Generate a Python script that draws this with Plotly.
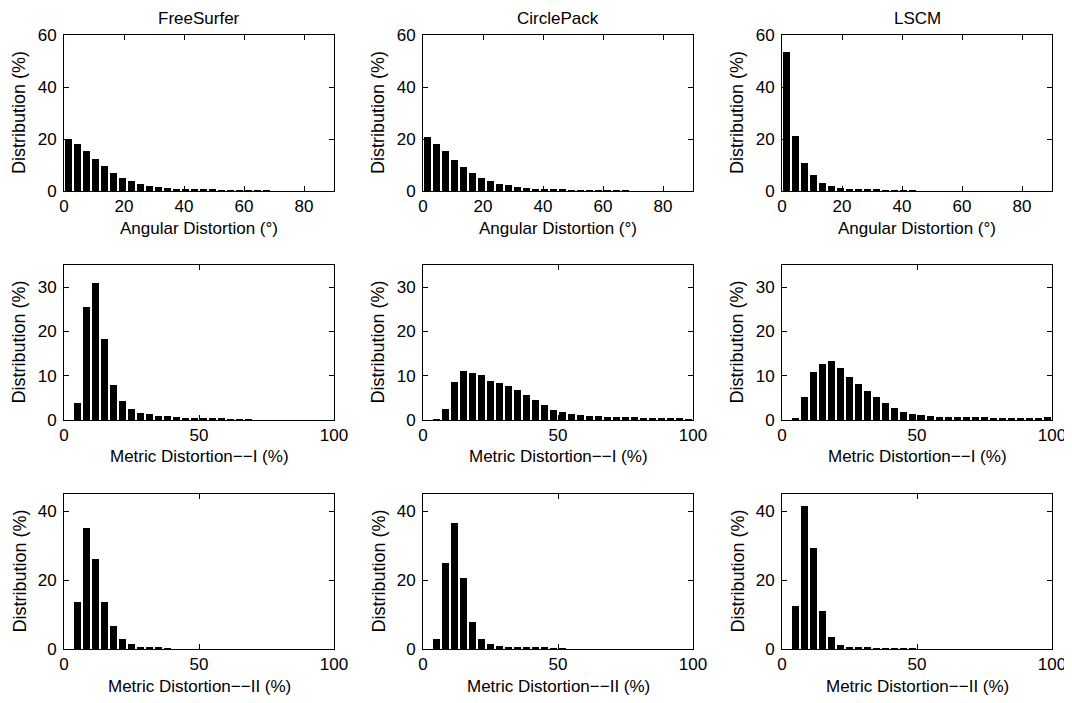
import plotly.graph_objects as go
from plotly.subplots import make_subplots

methods = ["FreeSurfer", "CirclePack", "LSCM"]
xlabels = ["Angular Distortion (°)", "Metric Distortion\u2212\u2212I (%)", "Metric Distortion\u2212\u2212II (%)"]
ylabel = "Distribution (%)"

n_bins = 30
ang_max = 90
met_max = 100

# Angular distortion histograms (%), 30 bins over 0-90 deg
ang_freesurfer = [20.0, 17.9, 15.2, 12.3, 9.5, 6.9, 5.1, 3.9, 2.8, 2.1, 1.4, 1.2, 0.9, 0.7, 0.55,
                  0.45, 0.4, 0.35, 0.3, 0.25, 0.2, 0.15, 0.1, 0, 0, 0, 0, 0, 0, 0]
ang_circlepack = [20.8, 17.9, 15.2, 12.1, 9.3, 6.8, 4.9, 3.7, 2.8, 2.3, 1.7, 1.2, 0.9, 0.7, 0.5,
                  0.4, 0.35, 0.3, 0.25, 0.2, 0.15, 0.1, 0.1, 0, 0, 0, 0, 0, 0, 0]
ang_lscm = [53.3, 21.2, 10.7, 6.0, 3.2, 1.9, 1.2, 0.9, 0.6, 0.5, 0.4, 0.3, 0.3, 0.2, 0.15,
            0, 0, 0, 0, 0, 0, 0, 0, 0, 0, 0, 0, 0, 0, 0]

# Metric distortion I histograms (%), 30 bins over 0-100 %
md1_freesurfer = [0, 3.9, 25.6, 31.0, 18.3, 8.0, 4.2, 2.4, 1.6, 1.3, 1.0, 0.8, 0.7, 0.5, 0.45,
                  0.4, 0.3, 0.25, 0.2, 0.15, 0.1, 0, 0, 0, 0, 0, 0, 0, 0, 0]
md1_circlepack = [0, 0.15, 2.5, 8.6, 11.1, 10.6, 10.2, 8.9, 8.3, 7.7, 6.7, 5.7, 4.6, 3.5, 2.3,
                  1.7, 1.3, 1.1, 0.9, 0.8, 0.7, 0.7, 0.6, 0.6, 0.5, 0.45, 0.4, 0.3, 0.25, 0.2]
md1_lscm = [0, 0.4, 5.3, 10.8, 12.7, 13.3, 11.7, 9.6, 8.1, 6.6, 5.3, 3.9, 2.6, 1.7, 1.4,
            1.1, 0.8, 0.7, 0.7, 0.7, 0.6, 0.6, 0.6, 0.55, 0.5, 0.5, 0.45, 0.4, 0.4, 0.7]

# Metric distortion II histograms (%), 30 bins over 0-100 %
md2_freesurfer = [0, 13.6, 35.2, 26.0, 13.6, 6.8, 2.9, 1.5, 0.7, 0.5, 0.3, 0.1, 0, 0, 0,
                  0, 0, 0, 0, 0, 0, 0, 0, 0, 0, 0, 0, 0, 0, 0]
md2_circlepack = [0, 3.0, 25.0, 36.7, 20.6, 7.8, 2.9, 1.4, 1.0, 0.7, 0.6, 0.5, 0.4, 0.3, 0.2,
                  0.15, 0, 0, 0, 0, 0, 0, 0, 0, 0, 0, 0, 0, 0, 0]
md2_lscm = [0, 12.4, 41.5, 29.2, 11.1, 3.5, 1.2, 0.6, 0.4, 0.3, 0.2, 0.2, 0.15, 0.1, 0.1,
            0, 0, 0, 0, 0, 0, 0, 0, 0, 0, 0, 0, 0, 0, 0]

data = [
    [ang_freesurfer, ang_circlepack, ang_lscm],
    [md1_freesurfer, md1_circlepack, md1_lscm],
    [md2_freesurfer, md2_circlepack, md2_lscm],
]
x_max = [ang_max, met_max, met_max]
y_max = [60, 35, 45]
y_ticks = [[0, 20, 40, 60], [0, 10, 20, 30], [0, 20, 40]]
x_ticks = [[0, 20, 40, 60, 80], [0, 50, 100], [0, 50, 100]]

# page body has an 8px margin; work in figure coordinates
OFF = 8
W, H = 1072 - OFF, 703 - OFF
col_left = [64 - OFF, 423 - OFF, 782 - OFF]
col_width = 270
row_top = [35 - OFF, 265 - OFF, 494 - OFF]
row_bottom = [191 - OFF, 420 - OFF, 649 - OFF]

FONT = "Liberation Sans, Arial, Helvetica, sans-serif"

fig = make_subplots(rows=3, cols=3)
annotations = []
for r in range(3):
    bw = x_max[r] / n_bins
    centers = [(i + 0.5) * bw for i in range(n_bins)]
    for c in range(3):
        fig.add_trace(go.Bar(x=centers, y=data[r][c], width=bw * 0.75,
                             marker=dict(color="black", line=dict(width=0)),
                             showlegend=False, hoverinfo="x+y"),
                      row=r + 1, col=c + 1)
        idx = r * 3 + c + 1
        xa = "xaxis" if idx == 1 else f"xaxis{idx}"
        ya = "yaxis" if idx == 1 else f"yaxis{idx}"
        x0 = col_left[c] / W
        x1 = (col_left[c] + col_width) / W
        y0 = 1 - row_bottom[r] / H
        y1 = 1 - row_top[r] / H
        common = dict(showline=True, linecolor="black", linewidth=1, mirror="ticks",
                      ticks="inside", ticklen=5, tickcolor="black", showgrid=False,
                      zeroline=False, automargin=False,
                      tickfont=dict(family=FONT, size=17, color="black"))
        fig.layout[xa].update(domain=[x0, x1], range=[0, x_max[r]], tickvals=x_ticks[r],
                              ticklabelstandoff=0, **common)
        fig.layout[ya].update(domain=[y0, y1], range=[0, y_max[r]], tickvals=y_ticks[r],
                              ticklabelstandoff=3, **common)
        # x-axis title
        annotations.append(dict(text=xlabels[r], xref="paper", yref="paper",
                                x=(col_left[c] + col_width / 2) / W,
                                y=1 - (row_bottom[r] + 37) / H,
                                xanchor="center", yanchor="middle", showarrow=False,
                                font=dict(family=FONT, size=17, color="black")))
        # y-axis title
        annotations.append(dict(text=ylabel, xref="paper", yref="paper",
                                x=(col_left[c] - 45) / W,
                                y=1 - (row_top[r] + row_bottom[r]) / 2 / H,
                                xanchor="center", yanchor="middle", showarrow=False,
                                textangle=-90,
                                font=dict(family=FONT, size=18, color="black")))

for c in range(3):
    annotations.append(dict(text=methods[c], xref="paper", yref="paper",
                            x=(col_left[c] + col_width / 2) / W, y=1.0,
                            xanchor="center", yanchor="top", showarrow=False,
                            borderpad=0,
                            font=dict(family=FONT, size=17, color="black")))

fig.update_layout(width=W, height=H, margin=dict(l=0, r=0, t=0, b=0, autoexpand=False),
                  plot_bgcolor="white", paper_bgcolor="white", bargap=0,
                  annotations=annotations)
fig.write_html("out.html")
